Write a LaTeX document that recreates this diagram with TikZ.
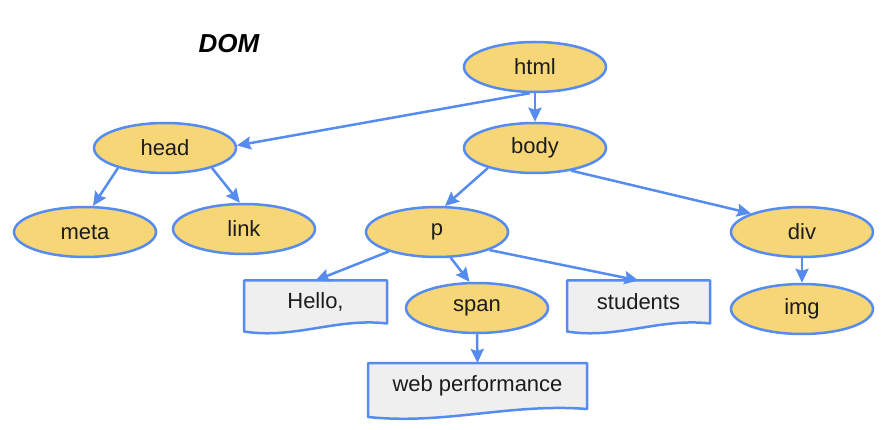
\documentclass[tikz,border=0pt]{standalone}
\usepackage{fontspec}
\setmainfont{Liberation Sans}
\usetikzlibrary{shapes.geometric,arrows.meta,calc,backgrounds}

\definecolor{edgeblue}{RGB}{86,140,240}
\definecolor{nodeyellow}{RGB}{246,214,118}
\definecolor{boxgray}{RGB}{239,239,239}
\definecolor{inkdark}{RGB}{28,28,28}

\tikzset{
  elem/.style={ellipse, draw=edgeblue, line width=2.5pt, fill=nodeyellow,
    minimum width=142pt, minimum height=50pt, inner sep=0pt,
    font=\fontsize{22}{26}\selectfont, text=inkdark},
  textleaf/.style={rectangle, inner sep=0pt, outer sep=0pt,
    font=\fontsize{22}{26}\selectfont, text=inkdark},
  docfill/.style={draw=edgeblue, line width=2.5pt, fill=boxgray, line join=round},
  connector/.style={draw=edgeblue, line width=2.5pt,
    -{Stealth[length=14pt,width=13pt,inset=2pt]}},
}

% document-style box with a wavy lower edge, drawn behind a named node
\newcommand\docshape[1]{%
  \path[docfill] (#1.north west) -- (#1.north east) -- (#1.south east)
    .. controls ($(#1.south east)!0.35!(#1.south west)+(0,-6)$)
       and ($(#1.south east)!0.65!(#1.south west)+(0,16)$)
    .. ($(#1.south west)+(0,8)$) -- cycle;}

\begin{document}
\begin{tikzpicture}[x=1pt,y=-1pt]
  \useasboundingbox (0,0) rectangle (886,430);

  \node[font=\bfseries\itshape\fontsize{26}{30}\selectfont, text=black] (title) at (229,44) {DOM};

  % element nodes
  \node[elem] (html) at (535,67)  {html};
  \node[elem] (body) at (535,148) {body};
  \node[elem] (head) at (165,148) {head};
  \node[elem] (meta) at (85,232)  {meta};
  \node[elem] (link) at (244,229) {link};
  \node[elem] (p)    at (437,232) {p};
  \node[elem] (div)  at (802,232) {div};
  \node[elem] (img)  at (802,309) {img};
  \node[elem] (span) at (477,308) {span};

  % text nodes
  \node[textleaf, minimum width=143pt, minimum height=43pt] (hello)    at (315.5,302) {Hello,};
  \node[textleaf, minimum width=143pt, minimum height=43pt] (students) at (638.5,302) {students};
  \node[textleaf, minimum width=219pt, minimum height=46pt] (web)      at (477.5,386) {web performance};

  \begin{pgfonlayer}{background}
    \docshape{hello}
    \docshape{students}
    \docshape{web}
  \end{pgfonlayer}

  % tree edges
  \draw[connector] (html.south) -- (body.north);
  \draw[connector] (html.259) -- (head.2);
  \draw[connector] (head.203) -- (meta.73);
  \draw[connector] (head.337) -- (link.99);
  \draw[connector] (body.203) -- (p.73);
  \draw[connector] (body.328) -- (div.160);
  \draw[connector] (div.south) -- (img.north);
  \draw[connector] (p.202) -- (hello.north);
  \draw[connector] (p.298) -- (span.106);
  \draw[connector] (p.341) -- (students.north);
  \draw[connector] (span.south) -- (web.north);
\end{tikzpicture}
\end{document}
